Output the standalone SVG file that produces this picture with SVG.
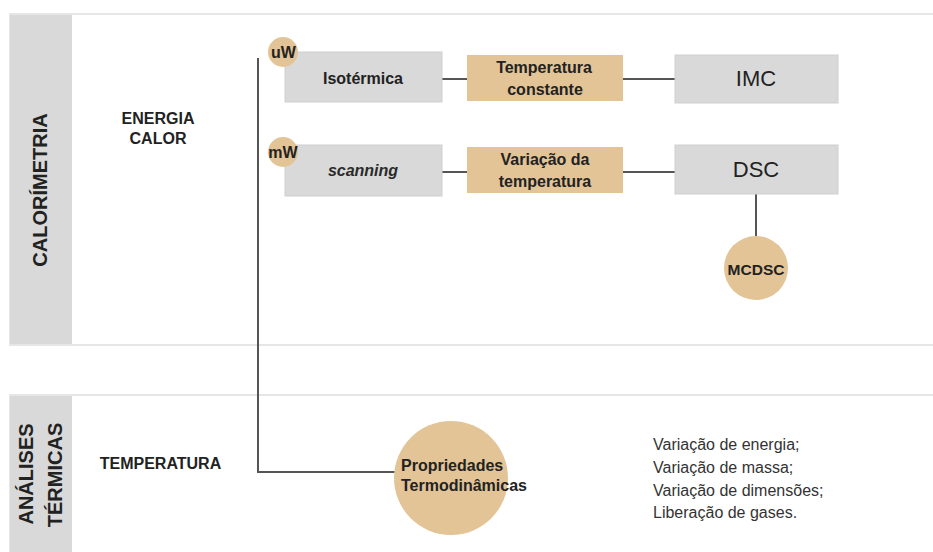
<svg xmlns="http://www.w3.org/2000/svg" width="933" height="552" viewBox="0 0 933 552">
<style>
text{font-family:"Liberation Sans",Arial,sans-serif;fill:#222}
.b{font-weight:bold}
.frame{fill:#fff;stroke:#e6e6e6;stroke-width:2}
.col{fill:#d9d9d9}
.gbox{fill:#d9d9d9;stroke:#cfcfcf;stroke-width:1}
.tbox{fill:#e3c496}
.circ{fill:#e3c496}
.conn{stroke:#555;stroke-width:2;fill:none}
.list{fill:#333;font-size:16px}
</style>
<rect width="933" height="552" fill="#fff"/>
<g id="panel-calorimetria">
<rect class="frame" x="10" y="14" width="930" height="331"/>
<rect class="col" x="10" y="15" width="62" height="329"/>
<text class="b" font-size="20" text-anchor="middle" transform="translate(47,190) rotate(-90)">CALORÍMETRIA</text>
<text class="b" font-size="16" text-anchor="middle" x="158" y="124">ENERGIA</text>
<text class="b" font-size="16" text-anchor="middle" x="158" y="144">CALOR</text>
</g>
<g id="panel-analises">
<rect class="frame" x="10" y="395" width="930" height="170"/>
<rect class="col" x="10" y="396" width="62" height="160"/>
<text class="b" font-size="20" text-anchor="middle" transform="translate(33,474) rotate(-90)">ANÁLISES</text>
<text class="b" font-size="20" text-anchor="middle" transform="translate(62,475) rotate(-90)">TÉRMICAS</text>
<text class="b" font-size="16" text-anchor="middle" x="160.5" y="469">TEMPERATURA</text>
</g>
<g id="connectors">
<polyline class="conn" points="258,58 258,472 396,472"/>
<line class="conn" x1="442" y1="79" x2="467" y2="79"/>
<line class="conn" x1="623" y1="79" x2="675" y2="79"/>
<line class="conn" x1="442" y1="172" x2="467" y2="172"/>
<line class="conn" x1="623" y1="172" x2="675" y2="172"/>
<line class="conn" x1="756" y1="194" x2="756" y2="236"/>
</g>
<g id="isotermica">
<rect class="gbox" x="285" y="52" width="157" height="50"/>
<text class="b" font-size="16" text-anchor="middle" x="363" y="84">Isotérmica</text>
</g>
<g id="uw">
<circle class="circ" cx="283" cy="52" r="15"/>
<text class="b" font-size="16" text-anchor="middle" x="283.5" y="58">uW</text>
</g>
<g id="scanning">
<rect class="gbox" x="285" y="145" width="157" height="51"/>
<text class="b" font-size="16" font-style="italic" text-anchor="middle" x="363" y="176" style="fill:#2a2a2a">scanning</text>
</g>
<g id="mw">
<circle class="circ" cx="283" cy="152" r="15"/>
<text class="b" font-size="16" text-anchor="middle" x="283" y="158">mW</text>
</g>
<g id="temp-constante">
<rect class="tbox" x="467" y="55" width="156" height="46"/>
<text class="b" font-size="16" text-anchor="middle" x="544" y="73">Temperatura</text>
<text class="b" font-size="16" text-anchor="middle" x="545" y="95">constante</text>
</g>
<g id="var-temp">
<rect class="tbox" x="467" y="147" width="156" height="46"/>
<text class="b" font-size="16" text-anchor="middle" x="545" y="165">Variação da</text>
<text class="b" font-size="16" text-anchor="middle" x="545" y="187">temperatura</text>
</g>
<g id="imc">
<rect class="gbox" x="675" y="55" width="163" height="48"/>
<text font-size="22" text-anchor="middle" x="756" y="86">IMC</text>
</g>
<g id="dsc">
<rect class="gbox" x="675" y="145" width="163" height="49"/>
<text font-size="22" text-anchor="middle" x="756" y="177">DSC</text>
</g>
<g id="mcdsc">
<circle class="circ" cx="756" cy="268" r="32"/>
<text class="b" font-size="15.5" text-anchor="middle" x="756" y="275">MCDSC</text>
</g>
<g id="propriedades">
<circle class="circ" cx="451" cy="478" r="57"/>
<text class="b" font-size="16" x="401" y="471">Propriedades</text>
<text class="b" font-size="16" x="401" y="491">Termodinâmicas</text>
</g>
<g id="lista">
<text class="list" x="653" y="450">Variação de energia;</text>
<text class="list" x="653" y="473">Variação de massa;</text>
<text class="list" x="653" y="496">Variação de dimensões;</text>
<text class="list" x="653" y="518">Liberação de gases.</text>
</g>
</svg>
